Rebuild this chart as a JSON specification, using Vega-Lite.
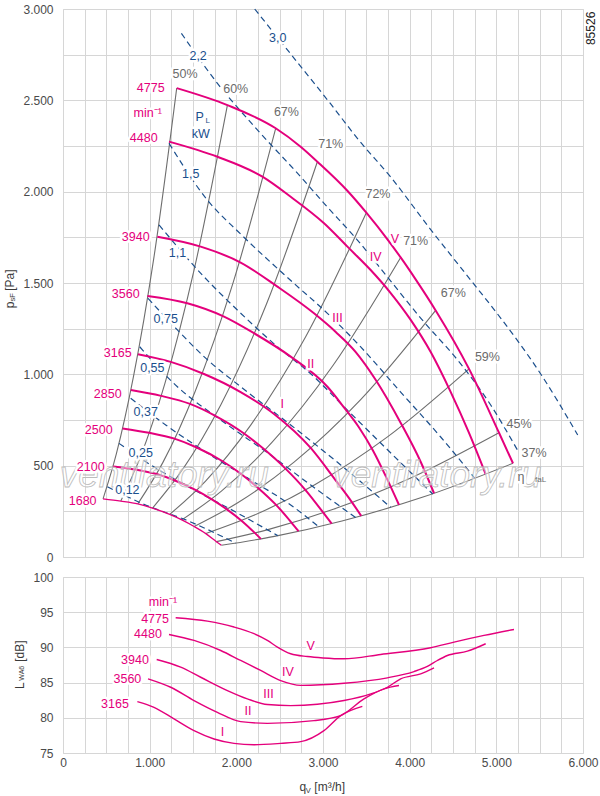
{
  "$schema": "https://vega.github.io/schema/vega-lite/v6.json",
  "padding": {"left": 3, "top": 2, "right": 0, "bottom": 0},
  "bounds": "flush",
  "spacing": 20,
  "config": {
    "font": "Liberation Sans",
    "view": {"stroke": "#d6d6d6"},
    "axis": {"labelFont": "Liberation Sans", "labelFontSize": 12, "labelColor": "#4a4a4a", "gridColor": "#d6d6d6", "gridWidth": 1, "domain": false, "ticks": false, "labelPadding": 10, "labelFlush": false, "labelOverlap": false},
    "text": {"font": "Liberation Sans"}
  },
  "datasets": {
    "fan": [
      {"n": 4775, "q": 1312, "p": 2567}, {"n": 4775, "q": 1897, "p": 2474}, {"n": 4775, "q": 2454, "p": 2347}, {"n": 4775, "q": 2742, "p": 2246}, {"n": 4775, "q": 2935, "p": 2164}, {"n": 4775, "q": 3281, "p": 2005}, {"n": 4775, "q": 3500, "p": 1885}, {"n": 4775, "q": 3750, "p": 1735}, {"n": 4775, "q": 3896, "p": 1640}, {"n": 4775, "q": 4069, "p": 1520}, {"n": 4775, "q": 4300, "p": 1350}, {"n": 4775, "q": 4685, "p": 1030}, {"n": 4775, "q": 5031, "p": 680}, {"n": 4775, "q": 5192, "p": 513},
      {"n": 4480, "q": 1223, "p": 2274}, {"n": 4480, "q": 1782, "p": 2191}, {"n": 4480, "q": 2301, "p": 2082}, {"n": 4480, "q": 2627, "p": 1972}, {"n": 4480, "q": 3012, "p": 1827}, {"n": 4480, "q": 3282, "p": 1699}, {"n": 4480, "q": 3550, "p": 1571}, {"n": 4480, "q": 3781, "p": 1445}, {"n": 4480, "q": 4012, "p": 1298}, {"n": 4480, "q": 4243, "p": 1122}, {"n": 4480, "q": 4474, "p": 903}, {"n": 4480, "q": 4681, "p": 684}, {"n": 4480, "q": 4877, "p": 454},
      {"n": 3940, "q": 1089, "p": 1753}, {"n": 3940, "q": 1589, "p": 1699}, {"n": 3940, "q": 2050, "p": 1612}, {"n": 3940, "q": 2474, "p": 1480}, {"n": 3940, "q": 2896, "p": 1334}, {"n": 3940, "q": 3147, "p": 1232}, {"n": 3940, "q": 3378, "p": 1122}, {"n": 3940, "q": 3609, "p": 969}, {"n": 3940, "q": 3897, "p": 734}, {"n": 3940, "q": 4128, "p": 520}, {"n": 3940, "q": 4281, "p": 349},
      {"n": 3560, "q": 974, "p": 1429}, {"n": 3560, "q": 1435, "p": 1389}, {"n": 3560, "q": 1858, "p": 1316}, {"n": 3560, "q": 2204, "p": 1225}, {"n": 3560, "q": 2627, "p": 1097}, {"n": 3560, "q": 3051, "p": 932}, {"n": 3560, "q": 3239, "p": 821}, {"n": 3560, "q": 3412, "p": 712}, {"n": 3560, "q": 3573, "p": 586}, {"n": 3560, "q": 3735, "p": 432}, {"n": 3560, "q": 3877, "p": 285},
      {"n": 3165, "q": 865, "p": 1110}, {"n": 3165, "q": 1243, "p": 1068}, {"n": 3165, "q": 1627, "p": 1002}, {"n": 3165, "q": 2050, "p": 903}, {"n": 3165, "q": 2435, "p": 783}, {"n": 3165, "q": 2858, "p": 597}, {"n": 3165, "q": 3127, "p": 432}, {"n": 3165, "q": 3335, "p": 299}, {"n": 3165, "q": 3441, "p": 225},
      {"n": 2850, "q": 783, "p": 914}, {"n": 2850, "q": 1132, "p": 882}, {"n": 2850, "q": 1465, "p": 838}, {"n": 2850, "q": 1752, "p": 774}, {"n": 2850, "q": 2089, "p": 676}, {"n": 2850, "q": 2325, "p": 588}, {"n": 2850, "q": 2567, "p": 484}, {"n": 2850, "q": 2796, "p": 368}, {"n": 2850, "q": 3003, "p": 243}, {"n": 2850, "q": 3099, "p": 183},
      {"n": 2500, "q": 687, "p": 704}, {"n": 2500, "q": 993, "p": 680}, {"n": 2500, "q": 1285, "p": 648}, {"n": 2500, "q": 1537, "p": 601}, {"n": 2500, "q": 1832, "p": 527}, {"n": 2500, "q": 2040, "p": 460}, {"n": 2500, "q": 2251, "p": 378}, {"n": 2500, "q": 2453, "p": 288}, {"n": 2500, "q": 2634, "p": 190}, {"n": 2500, "q": 2718, "p": 141},
      {"n": 2100, "q": 577, "p": 496}, {"n": 2100, "q": 834, "p": 479}, {"n": 2100, "q": 1079, "p": 454}, {"n": 2100, "q": 1291, "p": 419}, {"n": 2100, "q": 1539, "p": 365}, {"n": 2100, "q": 1713, "p": 317}, {"n": 2100, "q": 1891, "p": 261}, {"n": 2100, "q": 2060, "p": 199}, {"n": 2100, "q": 2213, "p": 132}, {"n": 2100, "q": 2283, "p": 99},
      {"n": 1680, "q": 462, "p": 318}, {"n": 1680, "q": 667, "p": 306}, {"n": 1680, "q": 863, "p": 291}, {"n": 1680, "q": 1033, "p": 268}, {"n": 1680, "q": 1231, "p": 233}, {"n": 1680, "q": 1371, "p": 203}, {"n": 1680, "q": 1513, "p": 167}, {"n": 1680, "q": 1648, "p": 128}, {"n": 1680, "q": 1770, "p": 84}, {"n": 1680, "q": 1827, "p": 64}
    ],
    "eff": [
      {"e": "50", "q": 1312, "p": 2567}, {"e": "50", "q": 1050, "p": 1643}, {"e": "50", "q": 813, "p": 987}, {"e": "50", "q": 617, "p": 567}, {"e": "50", "q": 462, "p": 318},
      {"e": "60", "q": 1897, "p": 2474}, {"e": "60", "q": 1518, "p": 1583}, {"e": "60", "q": 1176, "p": 951}, {"e": "60", "q": 892, "p": 547}, {"e": "60", "q": 667, "p": 306},
      {"e": "67a", "q": 2454, "p": 2347}, {"e": "67a", "q": 1963, "p": 1502}, {"e": "67a", "q": 1521, "p": 902}, {"e": "67a", "q": 1153, "p": 518}, {"e": "67a", "q": 863, "p": 291},
      {"e": "71a", "q": 2935, "p": 2164}, {"e": "71a", "q": 2348, "p": 1385}, {"e": "71a", "q": 1820, "p": 832}, {"e": "71a", "q": 1379, "p": 478}, {"e": "71a", "q": 1033, "p": 268},
      {"e": "72", "q": 3500, "p": 1885}, {"e": "72", "q": 2800, "p": 1206}, {"e": "72", "q": 2170, "p": 725}, {"e": "72", "q": 1645, "p": 416}, {"e": "72", "q": 1231, "p": 233},
      {"e": "71b", "q": 3896, "p": 1640}, {"e": "71b", "q": 3117, "p": 1050}, {"e": "71b", "q": 2416, "p": 630}, {"e": "71b", "q": 1831, "p": 362}, {"e": "71b", "q": 1371, "p": 203},
      {"e": "67b", "q": 4300, "p": 1350}, {"e": "67b", "q": 3440, "p": 864}, {"e": "67b", "q": 2666, "p": 519}, {"e": "67b", "q": 2021, "p": 298}, {"e": "67b", "q": 1513, "p": 167},
      {"e": "59", "q": 4685, "p": 1030}, {"e": "59", "q": 3748, "p": 659}, {"e": "59", "q": 2905, "p": 396}, {"e": "59", "q": 2202, "p": 228}, {"e": "59", "q": 1648, "p": 128},
      {"e": "45", "q": 5031, "p": 680}, {"e": "45", "q": 4025, "p": 435}, {"e": "45", "q": 3119, "p": 261}, {"e": "45", "q": 2365, "p": 150}, {"e": "45", "q": 1770, "p": 84},
      {"e": "37", "q": 5192, "p": 513}, {"e": "37", "q": 4154, "p": 328}, {"e": "37", "q": 3219, "p": 197}, {"e": "37", "q": 2440, "p": 113}, {"e": "37", "q": 1827, "p": 64}
    ],
    "pow": [
      {"k": "3,0", "q": 2212, "p": 3000}, {"k": "3,0", "q": 2627, "p": 2754}, {"k": "3,0", "q": 3089, "p": 2480}, {"k": "3,0", "q": 3412, "p": 2283}, {"k": "3,0", "q": 3781, "p": 2080}, {"k": "3,0", "q": 4219, "p": 1807}, {"k": "3,0", "q": 4704, "p": 1516}, {"k": "3,0", "q": 5050, "p": 1308}, {"k": "3,0", "q": 5512, "p": 1002}, {"k": "3,0", "q": 5939, "p": 668},
      {"k": "2,2", "q": 1366, "p": 2867}, {"k": "2,2", "q": 1782, "p": 2593}, {"k": "2,2", "q": 2243, "p": 2338}, {"k": "2,2", "q": 2742, "p": 2082}, {"k": "2,2", "q": 3012, "p": 1936}, {"k": "2,2", "q": 3397, "p": 1735}, {"k": "2,2", "q": 3743, "p": 1533}, {"k": "2,2", "q": 4127, "p": 1308}, {"k": "2,2", "q": 4589, "p": 1057}, {"k": "2,2", "q": 4935, "p": 832}, {"k": "2,2", "q": 5243, "p": 586},
      {"k": "1,5", "q": 1223, "p": 2265}, {"k": "1,5", "q": 1666, "p": 1954}, {"k": "1,5", "q": 2050, "p": 1768}, {"k": "1,5", "q": 2665, "p": 1498}, {"k": "1,5", "q": 3051, "p": 1334}, {"k": "1,5", "q": 3435, "p": 1150}, {"k": "1,5", "q": 3896, "p": 903}, {"k": "1,5", "q": 4358, "p": 657}, {"k": "1,5", "q": 4750, "p": 432},
      {"k": "1,1", "q": 1108, "p": 1818}, {"k": "1,1", "q": 1627, "p": 1534}, {"k": "1,1", "q": 2012, "p": 1352}, {"k": "1,1", "q": 2474, "p": 1151}, {"k": "1,1", "q": 2896, "p": 987}, {"k": "1,1", "q": 3166, "p": 859}, {"k": "1,1", "q": 3723, "p": 597}, {"k": "1,1", "q": 4266, "p": 345},
      {"k": "0,75", "q": 981, "p": 1416}, {"k": "0,75", "q": 1320, "p": 1243}, {"k": "0,75", "q": 1627, "p": 1097}, {"k": "0,75", "q": 2050, "p": 932}, {"k": "0,75", "q": 2627, "p": 723}, {"k": "0,75", "q": 3204, "p": 504}, {"k": "0,75", "q": 3781, "p": 272},
      {"k": "0,55", "q": 885, "p": 1151}, {"k": "0,55", "q": 1320, "p": 932}, {"k": "0,55", "q": 1820, "p": 750}, {"k": "0,55", "q": 2396, "p": 558}, {"k": "0,55", "q": 2858, "p": 394}, {"k": "0,55", "q": 3377, "p": 216},
      {"k": "0,37", "q": 781, "p": 869}, {"k": "0,37", "q": 1185, "p": 723}, {"k": "0,37", "q": 1646, "p": 575}, {"k": "0,37", "q": 2166, "p": 422}, {"k": "0,37", "q": 2627, "p": 285}, {"k": "0,37", "q": 2950, "p": 166},
      {"k": "0,25", "q": 646, "p": 622}, {"k": "0,25", "q": 1012, "p": 504}, {"k": "0,25", "q": 1473, "p": 378}, {"k": "0,25", "q": 1993, "p": 246}, {"k": "0,25", "q": 2477, "p": 117},
      {"k": "0,12", "q": 512, "p": 385}, {"k": "0,12", "q": 897, "p": 296}, {"k": "0,12", "q": 1473, "p": 192}, {"k": "0,12", "q": 1993, "p": 76}
    ],
    "toplab": [
      {"t": "4775", "q": 1012, "p": 2567, "kind": "speed"},
      {"t": "min⁻¹", "q": 977, "p": 2431, "kind": "speed"},
      {"t": "4480", "q": 931, "p": 2294, "kind": "speed"},
      {"t": "3940", "q": 839, "p": 1752, "kind": "speed"},
      {"t": "3560", "q": 724, "p": 1440, "kind": "speed"},
      {"t": "3165", "q": 631, "p": 1117, "kind": "speed"},
      {"t": "2850", "q": 516, "p": 892, "kind": "speed"},
      {"t": "2500", "q": 412, "p": 695, "kind": "speed"},
      {"t": "2100", "q": 320, "p": 493, "kind": "speed"},
      {"t": "1680", "q": 227, "p": 307, "kind": "speed"},
      {"t": "V", "q": 3831, "p": 1740, "kind": "speed"},
      {"t": "IV", "q": 3608, "p": 1641, "kind": "speed"},
      {"t": "III", "q": 3166, "p": 1307, "kind": "speed"},
      {"t": "II", "q": 2858, "p": 1057, "kind": "speed"},
      {"t": "I", "q": 2531, "p": 837, "kind": "speed"},
      {"t": "50%", "q": 1408, "p": 2644, "kind": "eff"},
      {"t": "60%", "q": 1993, "p": 2560, "kind": "eff"},
      {"t": "67%", "q": 2578, "p": 2434, "kind": "eff"},
      {"t": "71%", "q": 3089, "p": 2259, "kind": "eff"},
      {"t": "72%", "q": 3634, "p": 1987, "kind": "eff"},
      {"t": "71%", "q": 4069, "p": 1732, "kind": "eff"},
      {"t": "67%", "q": 4504, "p": 1444, "kind": "eff"},
      {"t": "59%", "q": 4897, "p": 1097, "kind": "eff"},
      {"t": "45%", "q": 5262, "p": 726, "kind": "eff"},
      {"t": "37%", "q": 5436, "p": 568, "kind": "eff"},
      {"t": "η", "q": 5285, "p": 436, "kind": "eff"},
      {"t": "3,0", "q": 2477, "p": 2841, "kind": "pow"},
      {"t": "2,2", "q": 1559, "p": 2743, "kind": "pow"},
      {"t": "1,5", "q": 1473, "p": 2096, "kind": "pow"},
      {"t": "1,1", "q": 1320, "p": 1666, "kind": "pow"},
      {"t": "0,75", "q": 1185, "p": 1302, "kind": "pow"},
      {"t": "0,55", "q": 1031, "p": 1033, "kind": "pow"},
      {"t": "0,37", "q": 954, "p": 795, "kind": "pow"},
      {"t": "0,25", "q": 897, "p": 567, "kind": "pow"},
      {"t": "0,12", "q": 743, "p": 367, "kind": "pow"},
      {"t": "P", "q": 1577, "p": 2409, "kind": "pow"},
      {"t": "kW", "q": 1589, "p": 2318, "kind": "pow"}
    ],
    "topsub": [
      {"t": "L", "q": 1670, "p": 2387, "kind": "pow"},
      {"t": "faL", "q": 5510, "p": 420, "kind": "eff"}
    ],
    "toptitle": [
      {"t": "p", "q": -615, "p": 1380, "kind": "plain"},
      {"t": "sF", "q": -572, "p": 1421, "kind": "plain"},
      {"t": "[Pa]", "q": -615, "p": 1516, "kind": "plain"}
    ],
    "mark": [
      {"t": "ventilatory.ru", "q": 1168, "p": 383},
      {"t": "ventilatory.ru", "q": 4312, "p": 383}
    ],
    "code": [
      {"t": "85526", "q": 6089, "p": 2894, "kind": "plain"}
    ],
    "noise": [
      {"n": 4775, "q": 1300, "L": 94.22}, {"n": 4775, "q": 1666, "L": 93.73}, {"n": 4775, "q": 1973, "L": 92.9}, {"n": 4775, "q": 2204, "L": 91.95}, {"n": 4775, "q": 2358, "L": 91.0}, {"n": 4775, "q": 2474, "L": 90.05}, {"n": 4775, "q": 2627, "L": 89.1}, {"n": 4775, "q": 2820, "L": 88.7}, {"n": 4775, "q": 3000, "L": 88.5}, {"n": 4775, "q": 3242, "L": 88.38}, {"n": 4775, "q": 3666, "L": 89.0}, {"n": 4775, "q": 4242, "L": 89.95}, {"n": 4775, "q": 4512, "L": 90.75}, {"n": 4775, "q": 4858, "L": 91.7}, {"n": 4775, "q": 5204, "L": 92.55},
      {"n": 4480, "q": 1223, "L": 91.84}, {"n": 4480, "q": 1512, "L": 90.99}, {"n": 4480, "q": 1820, "L": 89.56}, {"n": 4480, "q": 2050, "L": 88.14}, {"n": 4480, "q": 2281, "L": 86.72}, {"n": 4480, "q": 2512, "L": 85.29}, {"n": 4480, "q": 2743, "L": 84.61}, {"n": 4480, "q": 3242, "L": 84.91}, {"n": 4480, "q": 3743, "L": 85.68}, {"n": 4480, "q": 4050, "L": 86.57}, {"n": 4480, "q": 4204, "L": 87.29}, {"n": 4480, "q": 4320, "L": 88.14}, {"n": 4480, "q": 4435, "L": 88.85}, {"n": 4480, "q": 4666, "L": 89.46}, {"n": 4480, "q": 4877, "L": 90.52},
      {"n": 3940, "q": 1081, "L": 88.28}, {"n": 3940, "q": 1358, "L": 87.19}, {"n": 3940, "q": 1589, "L": 85.76}, {"n": 3940, "q": 1897, "L": 83.87}, {"n": 3940, "q": 2127, "L": 82.69}, {"n": 3940, "q": 2358, "L": 81.88}, {"n": 3940, "q": 2627, "L": 81.73}, {"n": 3940, "q": 3242, "L": 82.45}, {"n": 3940, "q": 3551, "L": 83.39}, {"n": 3940, "q": 3743, "L": 84.34}, {"n": 3940, "q": 3896, "L": 85.53}, {"n": 3940, "q": 4127, "L": 86.25}, {"n": 3940, "q": 4281, "L": 87.1},
      {"n": 3560, "q": 981, "L": 85.54}, {"n": 3560, "q": 1243, "L": 84.34}, {"n": 3560, "q": 1512, "L": 82.45}, {"n": 3560, "q": 1781, "L": 80.78}, {"n": 3560, "q": 2050, "L": 79.46}, {"n": 3560, "q": 2358, "L": 79.21}, {"n": 3560, "q": 2896, "L": 79.6}, {"n": 3560, "q": 3204, "L": 80.31}, {"n": 3560, "q": 3473, "L": 82.69}, {"n": 3560, "q": 3704, "L": 84.11}, {"n": 3560, "q": 3877, "L": 84.58},
      {"n": 3165, "q": 858, "L": 82.3}, {"n": 3165, "q": 1050, "L": 81.49}, {"n": 3165, "q": 1281, "L": 79.84}, {"n": 3165, "q": 1512, "L": 78.17}, {"n": 3165, "q": 1743, "L": 76.99}, {"n": 3165, "q": 1973, "L": 76.37}, {"n": 3165, "q": 2204, "L": 76.18}, {"n": 3165, "q": 2512, "L": 76.37}, {"n": 3165, "q": 2743, "L": 76.61}, {"n": 3165, "q": 3011, "L": 78.17}, {"n": 3165, "q": 3204, "L": 80.31}, {"n": 3165, "q": 3454, "L": 81.63}
    ],
    "botlab": [
      {"t": "min⁻¹", "q": 1154, "L": 96.44, "kind": "speed"},
      {"t": "4775", "q": 1062, "L": 94.0, "kind": "speed"},
      {"t": "4480", "q": 981, "L": 91.96, "kind": "speed"},
      {"t": "3940", "q": 831, "L": 88.28, "kind": "speed"},
      {"t": "3560", "q": 743, "L": 85.58, "kind": "speed"},
      {"t": "3165", "q": 600, "L": 82.0, "kind": "speed"},
      {"t": "V", "q": 2858, "L": 90.13, "kind": "speed"},
      {"t": "IV", "q": 2596, "L": 86.48, "kind": "speed"},
      {"t": "III", "q": 2370, "L": 83.4, "kind": "speed"},
      {"t": "II", "q": 2135, "L": 80.92, "kind": "speed"},
      {"t": "I", "q": 1839, "L": 77.93, "kind": "speed"}
    ],
    "bottitle": [
      {"t": "L", "q": -500, "L": 84.58, "kind": "plain"},
      {"t": "WA6", "q": -468, "L": 86.33, "kind": "plain"},
      {"t": "[dB]", "q": -500, "L": 89.46, "kind": "plain"}
    ],
    "xtitle": [
      {"t": "q", "q": 2766, "L": 70.2, "kind": "plain"},
      {"t": "V", "q": 2829, "L": 69.63, "kind": "plain"},
      {"t": "[m³/h]", "q": 3077, "L": 70.2, "kind": "plain"}
    ]
  },
  "vconcat": [
    {
      "width": 520,
      "height": 548,
      "encoding": {
        "x": {"field": "q", "type": "quantitative", "scale": {"domain": [0, 6000], "nice": false, "zero": false},
          "axis": {"values": [0,250,500,750,1000,1250,1500,1750,2000,2250,2500,2750,3000,3250,3500,3750,4000,4250,4500,4750,5000,5250,5500,5750,6000], "labels": false, "title": null}},
        "y": {"field": "p", "type": "quantitative", "scale": {"domain": [0, 3000], "nice": false, "zero": false},
          "axis": {"values": [0,250,500,750,1000,1250,1500,1750,2000,2250,2500,2750,3000], "labelExpr": "datum.value % 500 == 0 ? replace(format(datum.value, ','), ',', '.') : ''", "title": null}}
      },
      "layer": [
        {"data": {"name": "eff"}, "mark": {"type": "line", "color": "#6e6e6e", "strokeWidth": 1.1, "interpolate": "monotone"}, "encoding": {"detail": {"field": "e"}}},
        {"data": {"name": "pow"}, "mark": {"type": "line", "color": "#1b4f8d", "strokeWidth": 1.2, "strokeDash": [6, 4], "interpolate": "monotone"}, "encoding": {"detail": {"field": "k"}}},
        {"data": {"name": "fan"}, "mark": {"type": "line", "color": "#e4007c", "interpolate": "monotone"}, "encoding": {"detail": {"field": "n"}, "strokeWidth": {"condition": {"test": "datum.n == 1680", "value": 1.3}, "value": 2}}},
        {"data": {"name": "mark"}, "mark": {"type": "text", "fontSize": 37, "fontStyle": "italic", "align": "center", "baseline": "alphabetic", "color": "#ffffff", "fillOpacity": 0.45, "stroke": "#bcbcbc", "strokeWidth": 0.8}, "encoding": {"text": {"field": "t"}}},
        {"data": {"name": "toplab"}, "mark": {"type": "text", "fontSize": 12.5, "align": "center", "baseline": "middle", "color": "#ffffff", "stroke": "#ffffff", "strokeWidth": 5, "strokeJoin": "round"}, "encoding": {"text": {"field": "t"}}},
        {"data": {"name": "toplab"}, "mark": {"type": "text", "fontSize": 12.5, "align": "center", "baseline": "middle"}, "encoding": {"text": {"field": "t"}, "color": {"field": "kind", "type": "nominal", "scale": {"domain": ["speed", "eff", "pow", "plain"], "range": ["#e4007c", "#6b6b6b", "#1b4f8d", "#3a3a3a"]}, "legend": null}}},
        {"data": {"name": "topsub"}, "mark": {"type": "text", "fontSize": 8, "align": "center", "baseline": "middle"}, "encoding": {"text": {"field": "t"}, "color": {"field": "kind", "type": "nominal", "scale": {"domain": ["speed", "eff", "pow", "plain"], "range": ["#e4007c", "#6b6b6b", "#1b4f8d", "#3a3a3a"]}, "legend": null}}},
        {"data": {"name": "toptitle"}, "mark": {"type": "text", "angle": 270, "align": "center", "baseline": "middle", "color": "#3a3a3a"}, "encoding": {"text": {"field": "t"}, "size": {"condition": {"test": "datum.t == 'sF'", "value": 7.5}, "value": 12}}},
        {"data": {"name": "code"}, "mark": {"type": "text", "angle": 270, "align": "center", "baseline": "middle", "fontSize": 12, "color": "#222222"}, "encoding": {"text": {"field": "t"}}}
      ]
    },
    {
      "width": 520,
      "height": 176,
      "encoding": {
        "x": {"field": "q", "type": "quantitative", "scale": {"domain": [0, 6000], "nice": false, "zero": false},
          "axis": {"values": [0,250,500,750,1000,1250,1500,1750,2000,2250,2500,2750,3000,3250,3500,3750,4000,4250,4500,4750,5000,5250,5500,5750,6000], "labelExpr": "datum.value % 1000 == 0 ? replace(format(datum.value, ','), ',', '.') : ''", "labelPadding": 4, "title": null}},
        "y": {"field": "L", "type": "quantitative", "scale": {"domain": [75, 100], "nice": false, "zero": false},
          "axis": {"values": [75, 80, 85, 90, 95, 100], "title": null}}
      },
      "layer": [
        {"data": {"name": "noise"}, "mark": {"type": "line", "color": "#e4007c", "strokeWidth": 1.4, "interpolate": "monotone"}, "encoding": {"detail": {"field": "n"}}},
        {"data": {"name": "botlab"}, "mark": {"type": "text", "fontSize": 12.5, "align": "center", "baseline": "middle", "color": "#ffffff", "stroke": "#ffffff", "strokeWidth": 5, "strokeJoin": "round"}, "encoding": {"text": {"field": "t"}}},
        {"data": {"name": "botlab"}, "mark": {"type": "text", "fontSize": 12.5, "align": "center", "baseline": "middle"}, "encoding": {"text": {"field": "t"}, "color": {"field": "kind", "type": "nominal", "scale": {"domain": ["speed", "eff", "pow", "plain"], "range": ["#e4007c", "#6b6b6b", "#1b4f8d", "#3a3a3a"]}, "legend": null}}},
        {"data": {"name": "bottitle"}, "mark": {"type": "text", "angle": 270, "align": "center", "baseline": "middle", "color": "#3a3a3a"}, "encoding": {"text": {"field": "t"}, "size": {"condition": {"test": "datum.t == 'WA6'", "value": 7}, "value": 12}}},
        {"data": {"name": "xtitle"}, "mark": {"type": "text", "align": "center", "baseline": "middle", "color": "#3a3a3a"}, "encoding": {"text": {"field": "t"}, "size": {"condition": {"test": "datum.t == 'V'", "value": 7.5}, "value": 12}}}
      ]
    }
  ]
}
